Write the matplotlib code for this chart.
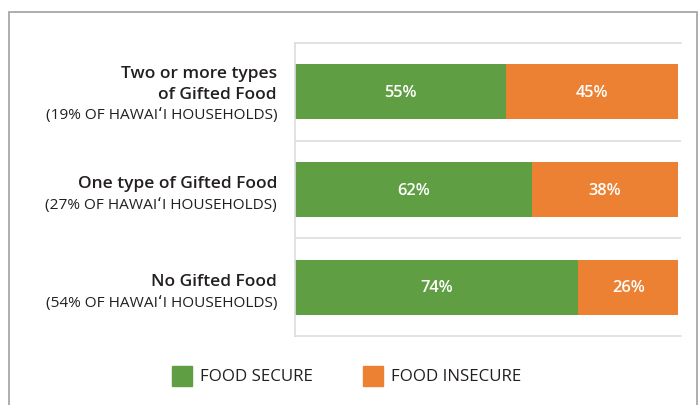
import matplotlib.pyplot as plt
from matplotlib.patches import Rectangle

plt.rcParams['font.family'] = ['Open Sans', 'DejaVu Sans']

groups = ["Two or more types\nof Gifted Food", "One type of Gifted Food", "No Gifted Food"]
shares = ["(19% OF HAWAI\u02bbI HOUSEHOLDS)", "(27% OF HAWAI\u02bbI HOUSEHOLDS)",
          "(54% OF HAWAI\u02bbI HOUSEHOLDS)"]
secure = [55, 62, 74]
insecure = [45, 38, 26]
series_names = ["FOOD SECURE", "FOOD INSECURE"]

GREEN = "#5f9e43"
ORANGE = "#ed8133"
GRID = "#dddddd"
TEXT = "#231f20"

W, H = 699, 406
fig = plt.figure(figsize=(W / 100, H / 100), dpi=100)

# outer frame
fig.patches.append(Rectangle((9 / W, -0.05), 688 / W, 1.05 - 13 / H, transform=fig.transFigure,
                             fill=False, edgecolor="#a0a0a0", linewidth=1.2))

ax = fig.add_axes([295 / W, 1 - 337 / H, 386 / W, 293 / H])
ys = list(range(len(groups)))
ax.barh(ys, secure, height=0.565, color=GREEN)
ax.barh(ys, insecure, left=secure, height=0.565, color=ORANGE)

for y, s, i in zip(ys, secure, insecure):
    ax.text(s / 2, y, f"{s}%", color="white", ha="center", va="center",
            fontsize=11.8, fontweight="semibold")
    ax.text(s + i / 2, y, f"{i}%", color="white", ha="center", va="center",
            fontsize=11.8, fontweight="semibold")

ax.set_xlim(0, 100.8)
ax.set_ylim(2.5, -0.5)
for b in [0.5, 1.5]:
    ax.axhline(b, color=GRID, linewidth=1.2)
for side in ["top", "bottom", "left"]:
    ax.spines[side].set_color(GRID)
    ax.spines[side].set_linewidth(1.2)
ax.spines["right"].set_visible(False)
ax.set_xticks([])
ax.set_yticks([])

# category labels, positioned by pixel offsets from the bar centre
px = 3 / 293
label_x = -18 / 386 * 100.8
for y, g, s in zip(ys, groups, shares):
    lines = g.split("\n")
    last = 5.8 if len(lines) > 1 else -2.3
    for k, line in enumerate(lines):
        off = last - 20.7 * (len(lines) - 1 - k)
        ax.text(label_x, y + off * px, line, ha="right", va="baseline", fontsize=12.5,
                fontweight="semibold", color=TEXT, clip_on=False)
    ax.text(label_x, y + (last + 20.7) * px, s, ha="right", va="baseline", fontsize=11.1,
            color=TEXT, clip_on=False)

# legend
for x0, color, name in [(172, GREEN, series_names[0]), (363, ORANGE, series_names[1])]:
    fig.patches.append(Rectangle((x0 / W, 1 - 387 / H), 20 / W, 20 / H,
                                 transform=fig.transFigure, color=color))
    fig.text((x0 + 28) / W, 1 - 377 / H, name, ha="left", va="center",
             fontsize=12.2, color=TEXT)

fig.savefig("out.png", dpi=100)
